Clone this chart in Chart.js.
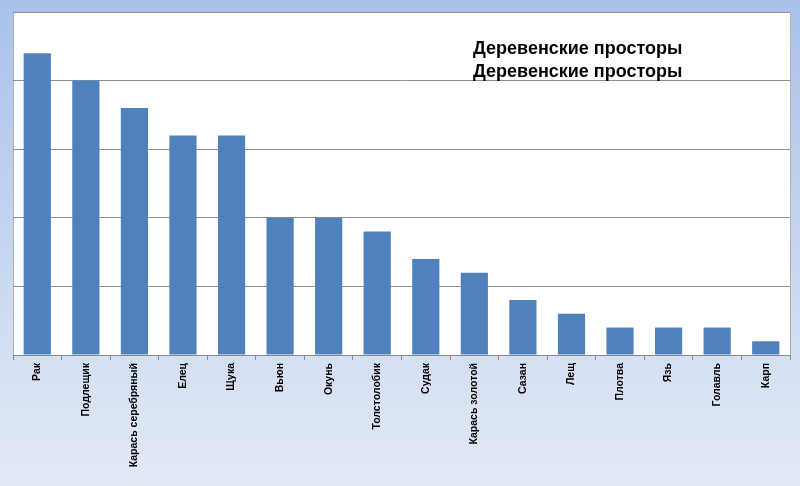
<!DOCTYPE html>
<html><head><meta charset="utf-8">
<script src="https://cdn.jsdelivr.net/npm/chart.js@4"></script>
<style>html,body{margin:0;padding:0;}#w{width:800px;height:486px;}</style>
</head><body><div id="w"><canvas id="c"></canvas></div>
<script>
const categories = ["Рак","Подлещик","Карась серебряный","Елец","Щука","Вьюн","Окунь","Толстолобик","Судак","Карась золотой","Сазан","Лещ","Плотва","Язь","Голавль","Карп"];
const values = [22,20,18,16,16,10,10,9,7,6,4,3,2,2,2,1];
const titleLines = ["Деревенские просторы","Деревенские просторы"];

const bg = {
  id:'bg',
  beforeDraw(chart){
    const {ctx,width,height,chartArea:a} = chart;
    const g = ctx.createLinearGradient(0,0,0,height);
    g.addColorStop(0,'#a9c1e9'); g.addColorStop(1,'#e3eaf6');
    ctx.save(); ctx.fillStyle=g; ctx.fillRect(0,0,width,height);
    ctx.fillStyle='#ffffff'; ctx.fillRect(a.left,a.top,a.right-a.left,a.bottom-a.top);
    ctx.strokeStyle='#b0b0b0'; ctx.lineWidth=1; ctx.strokeRect(a.left+0.5,a.top+0.5,a.right-a.left,a.bottom-a.top);
    ctx.restore();
  },
  afterDraw(chart){
    const {ctx} = chart;
    ctx.save(); ctx.fillStyle='#000'; ctx.font='bold 18px "Liberation Sans", Arial, sans-serif';
    ctx.textBaseline='middle';
    ctx.fillText(titleLines[0],473,49); ctx.fillText(titleLines[1],473,72);
    ctx.restore();
  }
};
new Chart(document.getElementById('c'),{
  type:'bar',
  data:{labels:categories,datasets:[{data:values,backgroundColor:'#4f81bd',barPercentage:0.56,categoryPercentage:1}]},
  options:{responsive:true,maintainAspectRatio:false,animation:false,
    layout:{padding:{left:13,top:12,right:10,bottom:0}},
    plugins:{legend:{display:false},tooltip:{enabled:false}},
    scales:{
      x:{afterFit(s){s.height=131;},grid:{display:true,drawOnChartArea:false,offset:true,tickLength:5,color:'#888'},border:{color:'#888'},
        ticks:{padding:3,maxRotation:90,minRotation:90,color:'#000',font:{family:'"Liberation Sans", Arial',size:10.5,weight:'bold'}}},
      y:{min:0,max:25,afterFit(s){s.width=0;},ticks:{stepSize:5,display:false},grid:{color:'#909090',drawTicks:false},border:{display:false}}
    }}
,plugins:[bg]});
</script></body></html>
